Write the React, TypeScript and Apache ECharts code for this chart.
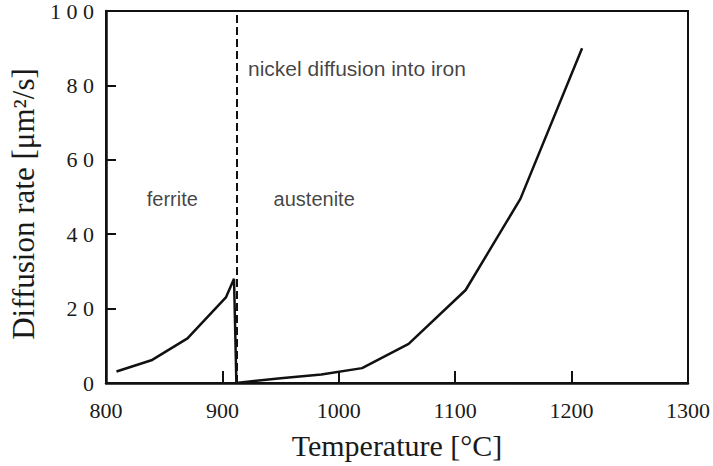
import React, { useEffect, useRef } from "react";
import * as echarts from "echarts";

// Diffusion rate of nickel in iron (µm²/s) against temperature (°C)
const ferriteTemp = [809, 839, 870, 903, 910, 912];
const ferriteRate = [3.1, 6.1, 12, 23, 28, 0];
const austeniteTemp = [912, 950, 985, 1020, 1060, 1109, 1156, 1209];
const austeniteRate = [0, 1.3, 2.3, 4, 10.5, 25, 49.5, 90];

// alpha/gamma transformation temperature
const transitionTemp = [912];

const xTicks = [800, 900, 1000, 1100, 1200, 1300];
const yTicks = [0, 20, 40, 60, 80, 100];

const serif = "'Liberation Serif', 'DejaVu Serif', serif";
const sans = "'Liberation Sans', Arial, sans-serif";
const ink = "#111";

export default function App() {
  const ref = useRef<HTMLDivElement>(null);

  useEffect(() => {
    if (!ref.current) return;
    const chart = echarts.init(ref.current, undefined, { renderer: "svg" });

    const pairs = (xs: number[], ys: number[]) => xs.map((x, i) => [x, ys[i]]);

    chart.setOption({
      animation: false,
      backgroundColor: "#fff",
      grid: {
        left: 106,
        right: 19,
        top: 9,
        bottom: 83,
        show: true,
        borderColor: ink,
        borderWidth: 2,
        backgroundColor: "transparent",
      },
      xAxis: {
        type: "value",
        min: xTicks[0],
        max: xTicks[xTicks.length - 1],
        interval: 100,
        name: "Temperature [°C]",
        nameLocation: "middle",
        nameGap: 47,
        nameTextStyle: { fontFamily: serif, fontSize: 30, color: "#1a1a1a" },
        axisLine: { show: true, onZero: false, lineStyle: { color: ink, width: 2.5 } },
        axisTick: { show: true, inside: true, length: 12, lineStyle: { color: ink, width: 2 } },
        axisLabel: {
          fontFamily: serif,
          fontSize: 22,
          color: "#1a1a1a",
          margin: 16,
          formatter: (v: number) => String(v),
        },
        splitLine: { show: false },
      },
      yAxis: {
        type: "value",
        min: yTicks[0],
        max: yTicks[yTicks.length - 1],
        interval: 20,
        name: "Diffusion rate [μm²/s]",
        nameLocation: "middle",
        nameGap: 66,
        nameTextStyle: {
          fontFamily: serif,
          fontSize: 31,
          color: "#1a1a1a",
          padding: [0, 14, 0, 0],
        },
        axisLine: { show: true, onZero: false, lineStyle: { color: ink, width: 2.5 } },
        axisTick: { show: true, inside: true, length: 10, lineStyle: { color: ink, width: 2 } },
        axisLabel: {
          fontFamily: serif,
          fontSize: 22,
          color: "#1a1a1a",
          margin: 12,
          formatter: (v: number) => String(v).split("").join(" "),
        },
        splitLine: { show: false },
      },
      series: [
        {
          type: "line",
          data: pairs(ferriteTemp, ferriteRate),
          symbol: "none",
          lineStyle: { color: ink, width: 2.5 },
          markLine: {
            silent: true,
            symbol: "none",
            label: { show: false },
            lineStyle: { color: ink, width: 2, type: [8, 4] },
            data: transitionTemp.map((t) => [
              { coord: [t, yTicks[0]] },
              { coord: [t, yTicks[yTicks.length - 1]] },
            ]),
          },
        },
        {
          type: "line",
          data: pairs(austeniteTemp, austeniteRate),
          symbol: "none",
          lineStyle: { color: ink, width: 2.5 },
        },
        {
          type: "scatter",
          symbolSize: 0,
          silent: true,
          data: [
            { value: [835, 49.5], name: "ferrite" },
            { value: [944, 49.5], name: "austenite" },
          ],
          label: {
            show: true,
            position: "right",
            distance: 0,
            formatter: (p: any) => p.name,
            fontFamily: sans,
            fontSize: 20,
            color: "#111",
          },
        },
        {
          type: "scatter",
          symbolSize: 0,
          silent: true,
          data: [{ value: [922, 84.5], name: "nickel diffusion into iron" }],
          label: {
            show: true,
            position: "right",
            distance: 0,
            formatter: (p: any) => p.name,
            fontFamily: sans,
            fontSize: 21,
            color: "#111",
          },
        },
      ],
    });

    return () => chart.dispose();
  }, []);

  return (
    <div
      ref={ref}
      style={{ position: "absolute", left: 0, top: 0, width: 713, height: 466, background: "#fff" }}
    />
  );
}
